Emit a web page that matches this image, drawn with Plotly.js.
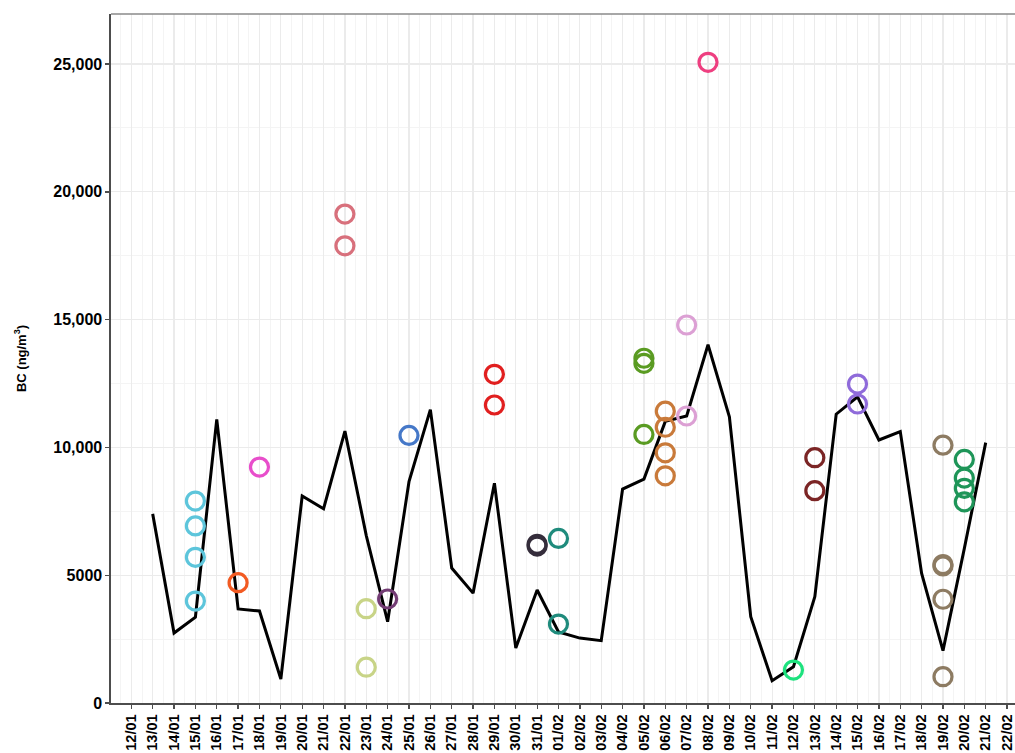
<!DOCTYPE html>
<html>
<head>
<meta charset="utf-8">
<script src="https://cdn.plot.ly/plotly-3.0.1.min.js"></script>
<style>html,body{margin:0;padding:0;background:#fff;}#chart{width:1015px;height:753px;}</style>
</head>
<body>
<div id="chart"></div>
<script>
// Daily BC line
const lineDates = ["2021-01-13","2021-01-14","2021-01-15","2021-01-16","2021-01-17","2021-01-18","2021-01-19","2021-01-20","2021-01-21","2021-01-22","2021-01-23","2021-01-24","2021-01-25","2021-01-26","2021-01-27","2021-01-28","2021-01-29","2021-01-30","2021-01-31","2021-02-01","2021-02-02","2021-02-03","2021-02-04","2021-02-05","2021-02-06","2021-02-07","2021-02-08","2021-02-09","2021-02-10","2021-02-11","2021-02-12","2021-02-13","2021-02-14","2021-02-15","2021-02-16","2021-02-17","2021-02-18","2021-02-19","2021-02-20","2021-02-21"];
const lineValues = [7400,2740,3360,11100,3680,3600,940,8100,7600,10640,6550,3180,8660,11480,5280,4300,8600,2150,4420,2780,2540,2440,8370,8760,11020,11230,14020,11200,3380,870,1420,4160,11300,11980,10290,10620,5070,2050,6050,10190];

// Sample circles, one group per date
const groupDates = ["2021-01-15","2021-01-17","2021-01-18","2021-01-22","2021-01-23","2021-01-24","2021-01-25","2021-01-29","2021-01-31","2021-02-01","2021-02-05","2021-02-06","2021-02-07","2021-02-08","2021-02-12","2021-02-13","2021-02-15","2021-02-19","2021-02-20"];
const groupValues = [
  [7900,6930,5700,3990],
  [4710],
  [9230],
  [19130,17890],
  [3690,1400],
  [4070],
  [10470],
  [12860,11660],
  [6210,6140],
  [6440,3090],
  [13490,13290,10510],
  [11420,10790,9790,8890],
  [14790,11230],
  [25070],
  [1290],
  [9600,8310],
  [12480,11700],
  [10090,5420,5360,4060,1030],
  [9530,8800,8400,7870]
];
const groupColors = ["#5DC5DB","#F25A22","#E84ECB","#D8707C","#C8D487","#733C74","#4578C8","#E11F1F","#352D3B","#1F8B7C","#5A9B22","#C97A3A","#DCA0D4","#EE3F80","#1DE27E","#7B2525","#8F6BDA","#8D7B62","#1E9558"];

// Axis ticks
const yTickVals = [0,5000,10000,15000,20000,25000];
const yTickText = ["0","5000","10,000","15,000","20,000","25,000"];

const traces = [];
groupDates.forEach((d, i) => {
  traces.push({
    type: "scatter", mode: "markers",
    x: groupValues[i].map(() => d), y: groupValues[i],
    marker: {symbol: "circle-open", size: 18, color: groupColors[i], line: {width: 3.2, color: groupColors[i]}},
    showlegend: false, hoverinfo: "x+y"
  });
});
traces.unshift({
  type: "scatter", mode: "lines", x: lineDates, y: lineValues,
  line: {color: "#000000", width: 3}, showlegend: false
});

const yTickFont = {family: "Liberation Sans, Arial, sans-serif", size: 16, color: "#000", weight: "bold"};
const xTickFont = {family: "Liberation Sans, Arial, sans-serif", size: 14.5, color: "#000", weight: "bold"};

const layout = {
  width: 1015, height: 753,
  margin: {l: 111, r: 0, t: 14, b: 50, pad: 0},
  paper_bgcolor: "#ffffff", plot_bgcolor: "#ffffff",
  showlegend: false,
  xaxis: {
    type: "date",
    range: ["2021-01-11 01:10", "2021-02-22 08:55"],
    tick0: "2021-01-12", dtick: 86400000, tickformat: "%d/%m",
    tickangle: -90, tickfont: xTickFont,
    ticks: "outside", ticklen: 4, tickwidth: 1.3, tickcolor: "#4d4d4d",
    showgrid: true, gridcolor: "#EBEBEB", gridwidth: 1.2,
    minor: {dtick: 43200000, tick0: "2021-01-12", showgrid: true, gridcolor: "#F4F4F4", gridwidth: 1, ticks: ""},
    showline: true, linecolor: "#4d4d4d", linewidth: 1.6,
    zeroline: false
  },
  yaxis: {
    range: [0, 26960],
    tickvals: yTickVals, ticktext: yTickText, tickfont: yTickFont,
    ticks: "outside", ticklen: 4, tickwidth: 1.3, tickcolor: "#4d4d4d",
    showgrid: true, gridcolor: "#EBEBEB", gridwidth: 1.2,
    minor: {dtick: 2500, tick0: 0, showgrid: true, gridcolor: "#F4F4F4", gridwidth: 1, ticks: ""},
    showline: true, linecolor: "#4d4d4d", linewidth: 1.6,
    zeroline: false,
    title: {text: "BC (ng/m<sup>3</sup>)", font: {family: "Liberation Sans, Arial, sans-serif", size: 13, color: "#000", weight: "bold"}, standoff: 24}
  },
  shapes: [{type: "line", xref: "paper", yref: "paper", x0: 0, x1: 1, y0: 1, y1: 1, line: {color: "#8a8a8a", width: 1.6}}]
};

Plotly.newPlot("chart", traces, layout, {displayModeBar: false, staticPlot: true});
</script>
</body>
</html>
